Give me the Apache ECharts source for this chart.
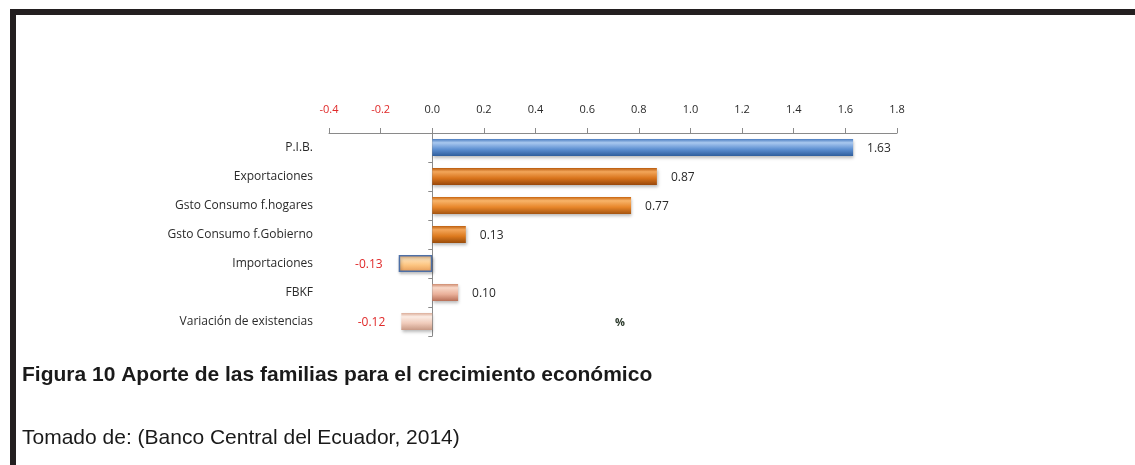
<!DOCTYPE html>
<html>
<head>
<meta charset="utf-8">
<script src="https://cdn.jsdelivr.net/npm/echarts@6/dist/echarts.min.js"></script>
<style>
  html, body { margin: 0; padding: 0; background: #ffffff; }
  #chart { width: 1135px; height: 465px; }
</style>
</head>
<body>
<div id="chart"></div>
<script>
// Contribution to GDP growth by component (percentage points)
const categories = [
  'P.I.B.',
  'Exportaciones',
  'Gsto Consumo f.hogares',
  'Gsto Consumo f.Gobierno',
  'Importaciones',
  'FBKF',
  'Variación de existencias'
];
const values = [1.63, 0.87, 0.77, 0.13, -0.13, 0.10, -0.12];
const axisMin = -0.4;
const axisMax = 1.8;
const axisStep = 0.2;

// bevel-like gradients for each bar: [edge-top, highlight, body, edge-bottom]
const barShades = [
  ['#4a7cc0', '#a9c8ef', '#5e90d2', '#2f5e9c'],
  ['#b95a0c', '#f3a65a', '#d9741c', '#98470a'],
  ['#c8640e', '#f8b46a', '#e8862a', '#a45410'],
  ['#bd5f0e', '#f3a65a', '#dd7a1e', '#9a4c0a'],
  ['#f0a868', '#ffe2b8', '#fcc480', '#e49a58'],
  ['#cf8c70', '#f8d8c8', '#eab09a', '#b87058'],
  ['#dcae9a', '#fbece4', '#f0cbba', '#c89a86']
];
const barBorders = [null, null, null, null, '#4d6fa6', null, null];

const chartFont = '"Open Sans", Lato, sans-serif';
const negColor = '#e02a2a';
const textColor = '#2a2a2a';

function gradient(s) {
  return new echarts.graphic.LinearGradient(0, 0, 0, 1, [
    { offset: 0, color: s[0] },
    { offset: 0.22, color: s[1] },
    { offset: 0.6, color: s[2] },
    { offset: 1, color: s[3] }
  ]);
}

const seriesData = values.map((v, i) => ({
  value: v,
  itemStyle: {
    color: gradient(barShades[i]),
    borderColor: barBorders[i] || 'transparent',
    borderWidth: barBorders[i] ? 1.5 : 0
  },
  label: {
    position: v < 0 ? 'left' : 'right',
    distance: v < 0 ? 16 : 14,
    color: v < 0 ? negColor : textColor
  }
}));

const chart = echarts.init(document.getElementById('chart'), null, { renderer: 'canvas' });

chart.setOption({
  animation: false,
  backgroundColor: '#ffffff',
  grid: { left: 329, right: 238, top: 133, bottom: 129, containLabel: false },
  xAxis: {
    type: 'value',
    position: 'top',
    min: axisMin,
    max: axisMax,
    interval: axisStep,
    axisLine: { show: true, lineStyle: { color: '#8a8a8a', width: 1 } },
    axisTick: { show: true, length: 5, lineStyle: { color: '#8a8a8a' } },
    splitLine: { show: false },
    axisLabel: {
      margin: 18,
      fontFamily: chartFont,
      fontSize: 11,
      formatter: v => v.toFixed(1),
      color: v => (v < 0 ? negColor : textColor)
    }
  },
  yAxis: {
    type: 'category',
    data: categories,
    inverse: true,
    axisLine: { show: true, onZero: true, lineStyle: { color: '#8a8a8a', width: 1 } },
    axisTick: { show: true, length: 4, lineStyle: { color: '#8a8a8a' } },
    axisLabel: {
      margin: 16,
      fontFamily: chartFont,
      fontSize: 12,
      color: textColor
    }
  },
  series: [{
    type: 'bar',
    data: seriesData,
    barWidth: 17,
    itemStyle: {
      shadowColor: 'rgba(0,0,0,0.28)',
      shadowBlur: 3,
      shadowOffsetX: 1,
      shadowOffsetY: 2
    },
    label: {
      show: true,
      fontFamily: chartFont,
      fontSize: 12,
      offset: [0, 1],
      formatter: p => p.value.toFixed(2)
    }
  }],
  graphic: [
    { type: 'rect', shape: { x: 10, y: 9, width: 1125, height: 6 }, style: { fill: '#231f20' } },
    { type: 'rect', shape: { x: 10, y: 9, width: 6, height: 456 }, style: { fill: '#231f20' } },
    {
      type: 'text', x: 620, y: 323,
      style: { text: '%', font: 'bold 11px ' + chartFont, fill: '#2c3a2c', align: 'center', verticalAlign: 'middle' }
    },
    {
      type: 'text', x: 22, y: 375,
      style: {
        text: 'Figura 10 Aporte de las familias para el crecimiento económico',
        font: 'bold 21px "Liberation Sans", Arial, sans-serif',
        fill: '#1a1a1a', verticalAlign: 'middle'
      }
    },
    {
      type: 'text', x: 22, y: 438,
      style: {
        text: 'Tomado de: (Banco Central del Ecuador, 2014)',
        font: '21px "Liberation Sans", Arial, sans-serif',
        fill: '#1a1a1a', verticalAlign: 'middle'
      }
    }
  ]
});
</script>
</body>
</html>
